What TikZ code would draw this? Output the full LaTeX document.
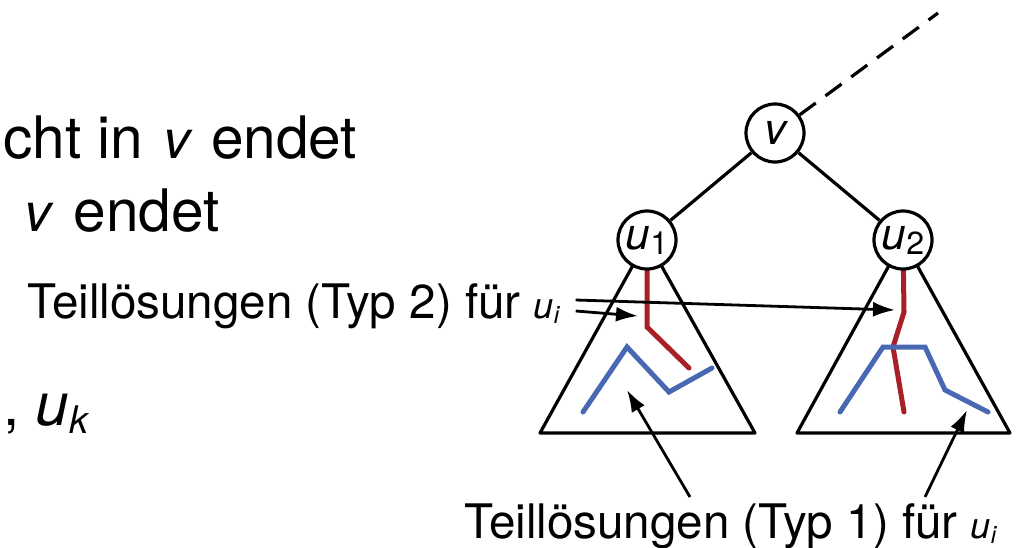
\documentclass[tikz,border=0pt]{standalone}
\usepackage{fontspec}
\setmainfont{TeX Gyre Heros}
\usepackage{graphicx}
\usetikzlibrary{arrows.meta,calc}
\usepackage{tkz-euclide}
\definecolor{PathRed}{RGB}{168,32,38}
\definecolor{PathBlue}{RGB}{72,104,178}
\newcommand\itvar[2]{{\fontsize{#1}{#1}\selectfont\itshape #2}}
\newcommand\lowidx[3]{\raisebox{-#1}{\fontsize{#2}{#2}\selectfont #3}}

\begin{document}
\begin{tikzpicture}[x=0.5pt,y=-0.5pt,
  vertex/.style={circle,draw,fill=white,line width=1.6pt,minimum size=29pt,inner sep=0pt},
  bigtext/.style={anchor=base west,inner sep=0pt,font=\fontsize{29.3}{35}\selectfont},
  labeltext/.style={anchor=base west,inner sep=0pt,font=\fontsize{23.8}{28}\selectfont},
  pointer/.style={line width=1.4pt,-{Latex[length=11pt,width=7.5pt]}}]
\useasboundingbox (0,0) rectangle (1022,547);
\tkzSetUpLine[line width=1.6pt,color=black]

\tkzDefPoint(775,133){V}
\tkzDefPoint(647,240){U1}
\tkzDefPoint(903,240){U2}
\tkzDefPoint(938,13){Top}

\tkzDefPoint(540,433){L1}
\tkzDefPoint(755,433){R1}
\tkzDefPoint(797,433){L2}
\tkzDefPoint(1010,433){R2}

% partial solutions, left subtree
\tkzDefPoint(647,327){A1}
\tkzDefPoint(689,368){A2}
\tkzDefPoint(583,412){B1}
\tkzDefPoint(627,347){B2}
\tkzDefPoint(669,392){B3}
\tkzDefPoint(712,368){B4}

% partial solutions, right subtree
\tkzDefPoint(904,312){C1}
\tkzDefPoint(893,347){C2}
\tkzDefPoint(904,412){C3}
\tkzDefPoint(840,412){D1}
\tkzDefPoint(883,347){D2}
\tkzDefPoint(925,347){D3}
\tkzDefPoint(945,390){D4}
\tkzDefPoint(988,412){D5}

\tkzDefPoint(895,310){H1}
\tkzDefPoint(638,316){H2}
\tkzDefPoint(627,390){H3}
\tkzDefPoint(967,410){H4}

\tkzDrawPolygon(U1,L1,R1)
\tkzDrawPolygon(U2,L2,R2)

\tkzDrawPolySeg[color=PathRed,line width=2.5pt](U1,A1,A2)
\tkzDrawPolySeg[color=PathBlue,line width=2.5pt](B1,B2,B3,B4)
\tkzDrawPolySeg[color=PathRed,line width=2.5pt](U2,C1,C2,C3)
\tkzDrawPolySeg[color=PathBlue,line width=2.5pt](D1,D2,D3,D4,D5)

\node[vertex] (v) at (V) {\itvar{22}{v}};
\node[vertex] (u1) at (U1) {\itvar{22}{u}\lowidx{2.5pt}{16}{1}};
\node[vertex] (u2) at (U2) {\itvar{22}{u}\lowidx{2.5pt}{16}{2}};

\draw[line width=1.6pt] (v) -- (u1);
\draw[line width=1.6pt] (v) -- (u2);
\draw[line width=1.6pt,dash pattern=on 10pt off 6pt] (v) -- (Top);

\node[bigtext] (line1) at (3,158) {cht in\hspace{2pt} \itvar{27}{v}\hspace{2pt} endet};
\node[bigtext] (line2) at (24,231) {\itvar{27}{v}\hspace{3pt} endet};
\node[labeltext] (typ2) at (27,318) {Teillösungen (Typ 2) für \itvar{18}{u}\lowidx{2.5pt}{12}{\itshape i}};
\node[bigtext] (line4) at (3,425) {, \itvar{30}{u}\lowidx{4pt}{19}{\itshape k}};
\node[labeltext] (typ1) at (464,538) {Teillösungen (Typ 1) für \itvar{18}{u}\lowidx{2.5pt}{12}{\itshape i}};

\draw[pointer] ($(typ2.base east)+(16,-18)$) -- (H1);
\draw[pointer] ($(typ2.base east)+(16,-7)$) -- (H2);
\draw[pointer] ($(typ1.base west)+(226,-41)$) -- (H3);
\draw[pointer] ($(typ1.base west)+(461,-41)$) -- (H4);

\end{tikzpicture}
\end{document}
